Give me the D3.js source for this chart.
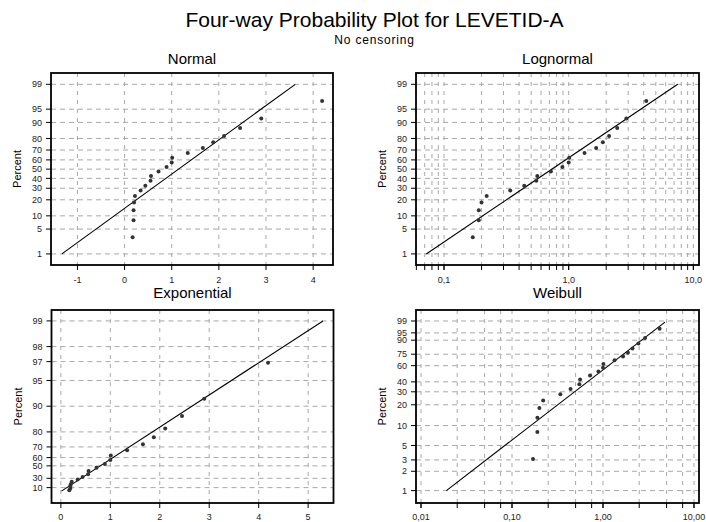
<!DOCTYPE html>
<html>
<head>
<meta charset="utf-8">
<script src="https://cdn.jsdelivr.net/npm/d3@7"></script>
<style>
  body { margin: 0; background: #fff; }
  text { font-family: "Liberation Sans", Arial, sans-serif; }
</style>
</head>
<body>
<div id="chart"></div>
<script>
// data
const levetid = [0.17, 0.19, 0.19, 0.20, 0.22, 0.34, 0.44, 0.55, 0.56, 0.72,
                 0.89, 1.00, 1.01, 1.34, 1.66, 1.88, 2.11, 2.45, 2.90, 4.19];
const percent = [3.1, 8.0, 13.0, 18.0, 23.0, 27.8, 32.5, 37.4, 42.6, 47.5,
                 52.3, 57.2, 62.3, 67.2, 72.0, 76.9, 81.8, 87.0, 91.8, 96.9];

// fitted lines: [value, percent]
const normalFit = [[-1.33, 1], [3.62, 99]];
const lognormalFit = [[0.072, 1], [7.49, 99]];
const exponentialFit = [[0.012, 1], [5.30, 99]];
const weibullFit = [[0.019, 1], [4.8, 98.8]];

// ticks
const normalYTicks = [1, 5, 10, 20, 30, 40, 50, 60, 70, 80, 90, 95, 99];
const exponentialYTicks = [10, 30, 50, 60, 70, 80, 90, 95, 97, 98, 99];
const weibullYTicks = [1, 2, 3, 5, 10, 20, 30, 40, 60, 75, 90, 95, 99];
const normalXTicks = [-1, 0, 1, 2, 3, 4];
const exponentialXTicks = [0, 1, 2, 3, 4, 5];
const lognormalXTicks = [0.1, 1, 10];
const lognormalXLabels = ["0,1", "1,0", "10,0"];
const lognormalMinor = [0.06, 0.07, 0.08, 0.09, 0.1, 0.2, 0.3, 0.4, 0.5, 0.6, 0.7, 0.8, 0.9,
                        1, 2, 3, 4, 5, 6, 7, 8, 9, 10];
const weibullXTicks = [0.01, 0.1, 1, 10];
const weibullXLabels = ["0,01", "0,10", "1,00", "10,00"];
const weibullMinor = [0.01, 0.025, 0.05, 0.075, 0.1, 0.25, 0.5, 0.75, 1, 2.5, 5, 7.5, 10];

// inverse normal cdf (Acklam)
let probit = p => {
    const a = [-3.969683028665376e+01, 2.209460984245205e+02, -2.759285104469687e+02,
               1.383577518672690e+02, -3.066479806614716e+01, 2.506628277459239e+00];
    const b = [-5.447609879822406e+01, 1.615858368580409e+02, -1.556989798598866e+02,
               6.680131188771972e+01, -1.328068155288572e+01];
    const c = [-7.784894002430293e-03, -3.223964580411365e-01, -2.400758277161838e+00,
               -2.549671750571910e+00, 4.374664141464968e+00, 2.938163982698783e+00];
    const d = [7.784695709041462e-03, 3.224671290700398e-01, 2.445134137142996e+00,
               3.754408661907416e+00];
    let q, r;
    if (p < 0.02425) {
        q = Math.sqrt(-2 * Math.log(p));
        return (((((c[0]*q+c[1])*q+c[2])*q+c[3])*q+c[4])*q+c[5]) / ((((d[0]*q+d[1])*q+d[2])*q+d[3])*q+1);
    }
    if (p > 1 - 0.02425) {
        q = Math.sqrt(-2 * Math.log(1 - p));
        return -(((((c[0]*q+c[1])*q+c[2])*q+c[3])*q+c[4])*q+c[5]) / ((((d[0]*q+d[1])*q+d[2])*q+d[3])*q+1);
    }
    q = p - 0.5;
    r = q * q;
    return (((((a[0]*r+a[1])*r+a[2])*r+a[3])*r+a[4])*r+a[5])*q / (((((b[0]*r+b[1])*r+b[2])*r+b[3])*r+b[4])*r+1);
};

const normalT = p => probit(p / 100);
const expT = p => -Math.log(1 - p / 100);
const weibullT = p => Math.log(-Math.log(1 - p / 100));

const width = 706, height = 522;

let svg = d3.select("#chart")
    .append("svg")
    .attr("width", width)
    .attr("height", height);

svg.append("text")
    .attr("x", 374.5)
    .attr("y", 27)
    .style("text-anchor", "middle")
    .style("font-size", "21px")
    .text("Four-way Probability Plot for LEVETID-A");

svg.append("text")
    .attr("x", 374.5)
    .attr("y", 44)
    .style("text-anchor", "middle")
    .style("font-size", "12px")
    .style("letter-spacing", "0.8px")
    .text("No censoring");

let panels = [
    {title: "Normal", left: 51, top: 73, right: 333, bottom: 265, titleY: 63.5, labelY: 282.5,
     x: d3.scaleLinear().domain([-1.561, 4.421]), t: normalT, yDomain: [-2.63, 2.637],
     yTicks: normalYTicks, xTicks: normalXTicks, xLabels: normalXTicks.map(String),
     xGrid: normalXTicks, xMinor: [], fit: normalFit},
    {title: "Lognormal", left: 416, top: 73, right: 699, bottom: 265, titleY: 63.5, labelY: 282.5,
     x: d3.scaleLog().domain([0.0596, 11.1]), t: normalT, yDomain: [-2.63, 2.637],
     yTicks: normalYTicks, xTicks: lognormalXTicks, xLabels: lognormalXLabels,
     xGrid: lognormalMinor, xMinor: lognormalMinor, fit: lognormalFit},
    {title: "Exponential", left: 51.5, top: 310, right: 333.5, bottom: 503, titleY: 298, labelY: 520,
     x: d3.scaleLinear().domain([-0.189, 5.513]), t: expT, yDomain: [-0.31, 4.90],
     yTicks: exponentialYTicks, xTicks: exponentialXTicks, xLabels: exponentialXTicks.map(String),
     xGrid: exponentialXTicks, xMinor: [], fit: exponentialFit},
    {title: "Weibull", left: 416, top: 310, right: 699, bottom: 503, titleY: 298, labelY: 520,
     x: d3.scaleLog().domain([0.00881, 11.35]), t: weibullT, yDomain: [-5.048, 1.924],
     yTicks: weibullYTicks, xTicks: weibullXTicks, xLabels: weibullXLabels,
     xGrid: weibullMinor, xMinor: weibullMinor, fit: weibullFit}
];

let drawPanel = p => {
    let x = p.x.range([p.left, p.right]);
    let y = d3.scaleLinear().domain(p.yDomain).range([p.bottom, p.top]);
    let yp = v => y(p.t(v));
    let g = svg.append("g");
    let cx = (p.left + p.right) / 2;

    g.append("text")
        .attr("x", cx)
        .attr("y", p.titleY)
        .style("text-anchor", "middle")
        .style("font-size", "15px")
        .text(p.title);

    // grid
    g.append("g").selectAll("line").data(p.yTicks).enter()
        .append("line")
        .attr("x1", p.left).attr("x2", p.right)
        .attr("y1", d => yp(d)).attr("y2", d => yp(d))
        .attr("stroke", "#a8a8a8")
        .attr("stroke-dasharray", "5,4");

    g.append("g").selectAll("line").data(p.xGrid).enter()
        .append("line")
        .attr("x1", d => x(d)).attr("x2", d => x(d))
        .attr("y1", p.top).attr("y2", p.bottom)
        .attr("stroke", "#a8a8a8")
        .attr("stroke-dasharray", "4,5");

    // y ticks
    g.append("g").selectAll("line").data(p.yTicks).enter()
        .append("line")
        .attr("x1", p.left - 5).attr("x2", p.left)
        .attr("y1", d => yp(d)).attr("y2", d => yp(d))
        .attr("stroke", "#000");

    g.append("g").selectAll("text").data(p.yTicks).enter()
        .append("text")
        .attr("x", p.left - 9)
        .attr("y", d => yp(d))
        .attr("dy", "0.35em")
        .style("text-anchor", "end")
        .style("font-size", "9px")
        .style("fill", "#222")
        .text(d => d);

    // x ticks
    g.append("g").selectAll("line").data(p.xTicks.concat(p.xMinor)).enter()
        .append("line")
        .attr("x1", d => x(d)).attr("x2", d => x(d))
        .attr("y1", p.bottom).attr("y2", p.bottom + 5)
        .attr("stroke", "#000");

    g.append("g").selectAll("text").data(p.xTicks).enter()
        .append("text")
        .attr("x", d => x(d))
        .attr("y", p.labelY)
        .style("text-anchor", "middle")
        .style("font-size", "9px")
        .style("fill", "#222")
        .text((d, i) => p.xLabels[i]);

    g.append("text")
        .attr("transform", `translate(${p.left - 30}, ${(p.top + p.bottom) / 2}) rotate(-90)`)
        .style("text-anchor", "middle")
        .style("font-size", "11px")
        .text("Percent");

    // fitted line
    g.append("path")
        .datum(p.fit)
        .attr("d", d3.line().x(d => x(d[0])).y(d => yp(d[1])))
        .attr("fill", "none")
        .attr("stroke", "#000")
        .attr("stroke-width", 1.1);

    // points
    g.append("g").selectAll("circle").data(levetid).enter()
        .append("circle")
        .attr("cx", d => x(d))
        .attr("cy", (d, i) => yp(percent[i]))
        .attr("r", 2)
        .attr("fill", "#333");

    g.append("rect")
        .attr("x", p.left).attr("y", p.top)
        .attr("width", p.right - p.left).attr("height", p.bottom - p.top)
        .attr("fill", "none")
        .attr("stroke", "#000")
        .attr("stroke-width", 1.8);
};

panels.forEach(drawPanel);
</script>
</body>
</html>
